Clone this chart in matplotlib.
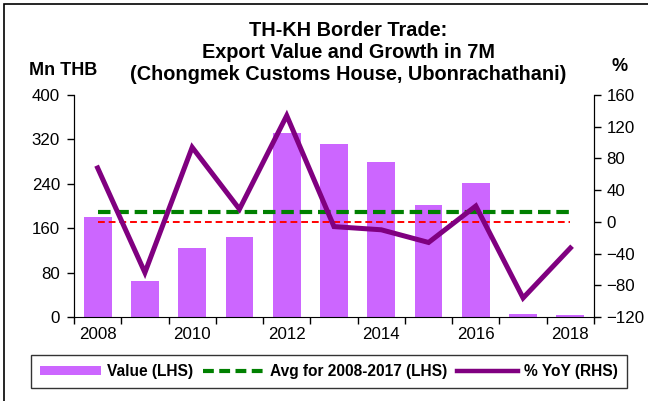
import matplotlib

matplotlib.use("Agg")
import matplotlib.pyplot as plt
import numpy as np
from matplotlib.patches import Patch, Rectangle
from matplotlib.lines import Line2D
from matplotlib.ticker import FixedLocator

plt.rcParams["font.family"] = ["Liberation Sans", "DejaVu Sans"]

# Chongmek customs house exports, first 7 months of each year
years = [2008, 2009, 2010, 2011, 2012, 2013, 2014, 2015, 2016, 2017, 2018]
value_mn_thb = [180, 65, 125, 144, 331, 312, 279, 202, 241, 5, 3]
yoy_pct = [68, -64, 94, 16, 134, -6, -10, -26, 20, -96, -33]
avg_years = (2008, 2017)

title = ("TH-KH Border Trade:\nExport Value and Growth in 7M\n"
         "(Chongmek Customs House, Ubonrachathani)")

BAR_COLOR = "#CC66FF"
LINE_COLOR = "#800080"
AVG_COLOR = "#008000"

x = np.arange(len(years))
in_avg = [avg_years[0] <= y <= avg_years[1] for y in years]
avg_value = np.mean([v for v, keep in zip(value_mn_thb, in_avg) if keep])

fig = plt.figure(figsize=(6.48, 4.01), dpi=100)
ax = fig.add_axes([74 / 648, 1 - 317 / 401, 520 / 648, 222 / 401])
ax2 = ax.twinx()

ax.bar(x, value_mn_thb, width=0.59, color=BAR_COLOR, zorder=2)
ax.plot([x[0], x[-1]], [avg_value, avg_value], color=AVG_COLOR, lw=3.0,
        dashes=(3.0, 1.4), zorder=3)
ax2.plot([x[0], x[-1]], [0, 0], color="#FF0000", lw=1.4, dashes=(3.5, 2.0))
ax2.plot(x, yoy_pct, color=LINE_COLOR, lw=3.6, solid_joinstyle="miter")

ax.set_xlim(-0.5, len(years) - 0.5)
ax.set_ylim(0, 400)
ax.set_yticks(np.arange(0, 401, 80))
ax2.set_ylim(-120, 160)
ax2.set_yticks(np.arange(-120, 161, 40))

ax.set_xticks(x[::2])
ax.set_xticklabels([str(y) for y in years[::2]])
ax.xaxis.set_minor_locator(FixedLocator(np.arange(-0.5, len(years), 1.0)))
ax.tick_params(axis="x", which="major", length=0, pad=7)
ax.tick_params(axis="x", which="minor", length=5, width=1, direction="out")
ax.tick_params(axis="y", length=5, width=1, direction="out", pad=5)
ax2.tick_params(axis="y", length=5, width=1, direction="out", pad=4)
for a in (ax, ax2):
    a.tick_params(labelsize=12.2)
    a.spines["top"].set_visible(False)
ax2.spines["bottom"].set_visible(False)

fig.text(348 / 648, 1 - 21 / 401, title, ha="center", va="top",
         fontsize=14.3, fontweight="bold", linespacing=1.2)
fig.text(29 / 648, 1 - 75 / 401, "Mn THB", ha="left", va="baseline",
         fontsize=13, fontweight="bold")
fig.text(620 / 648, 1 - 71 / 401, "%", ha="center", va="baseline",
         fontsize=13, fontweight="bold")

handles = [
    Patch(facecolor=BAR_COLOR, edgecolor="none"),
    Line2D([], [], color=AVG_COLOR, lw=3.0, dashes=(2.6, 1.3)),
    Line2D([], [], color=LINE_COLOR, lw=3.2),
]
labels = ["Value (LHS)", "Avg for 2008-2017 (LHS)", "% YoY (RHS)"]
leg = fig.legend(handles, labels, loc="center",
                 bbox_to_anchor=(329 / 648, 1 - 371.5 / 401), ncol=3,
                 frameon=True, fancybox=False, edgecolor="black",
                 prop={"weight": "bold", "size": 11.2}, handlelength=3.9,
                 handleheight=0.5, handletextpad=0.4, columnspacing=0.65,
                 borderpad=0.6, borderaxespad=0)
leg.get_frame().set_linewidth(1.0)

# outer chart frame, open on the right and bottom edges
fig.patches.append(Rectangle((4 / 648, -0.05), 1.0, 1.05 - 4 / 401,
                             transform=fig.transFigure, fill=False,
                             edgecolor="black", lw=1.2))

fig.savefig("out.png", dpi=100)
